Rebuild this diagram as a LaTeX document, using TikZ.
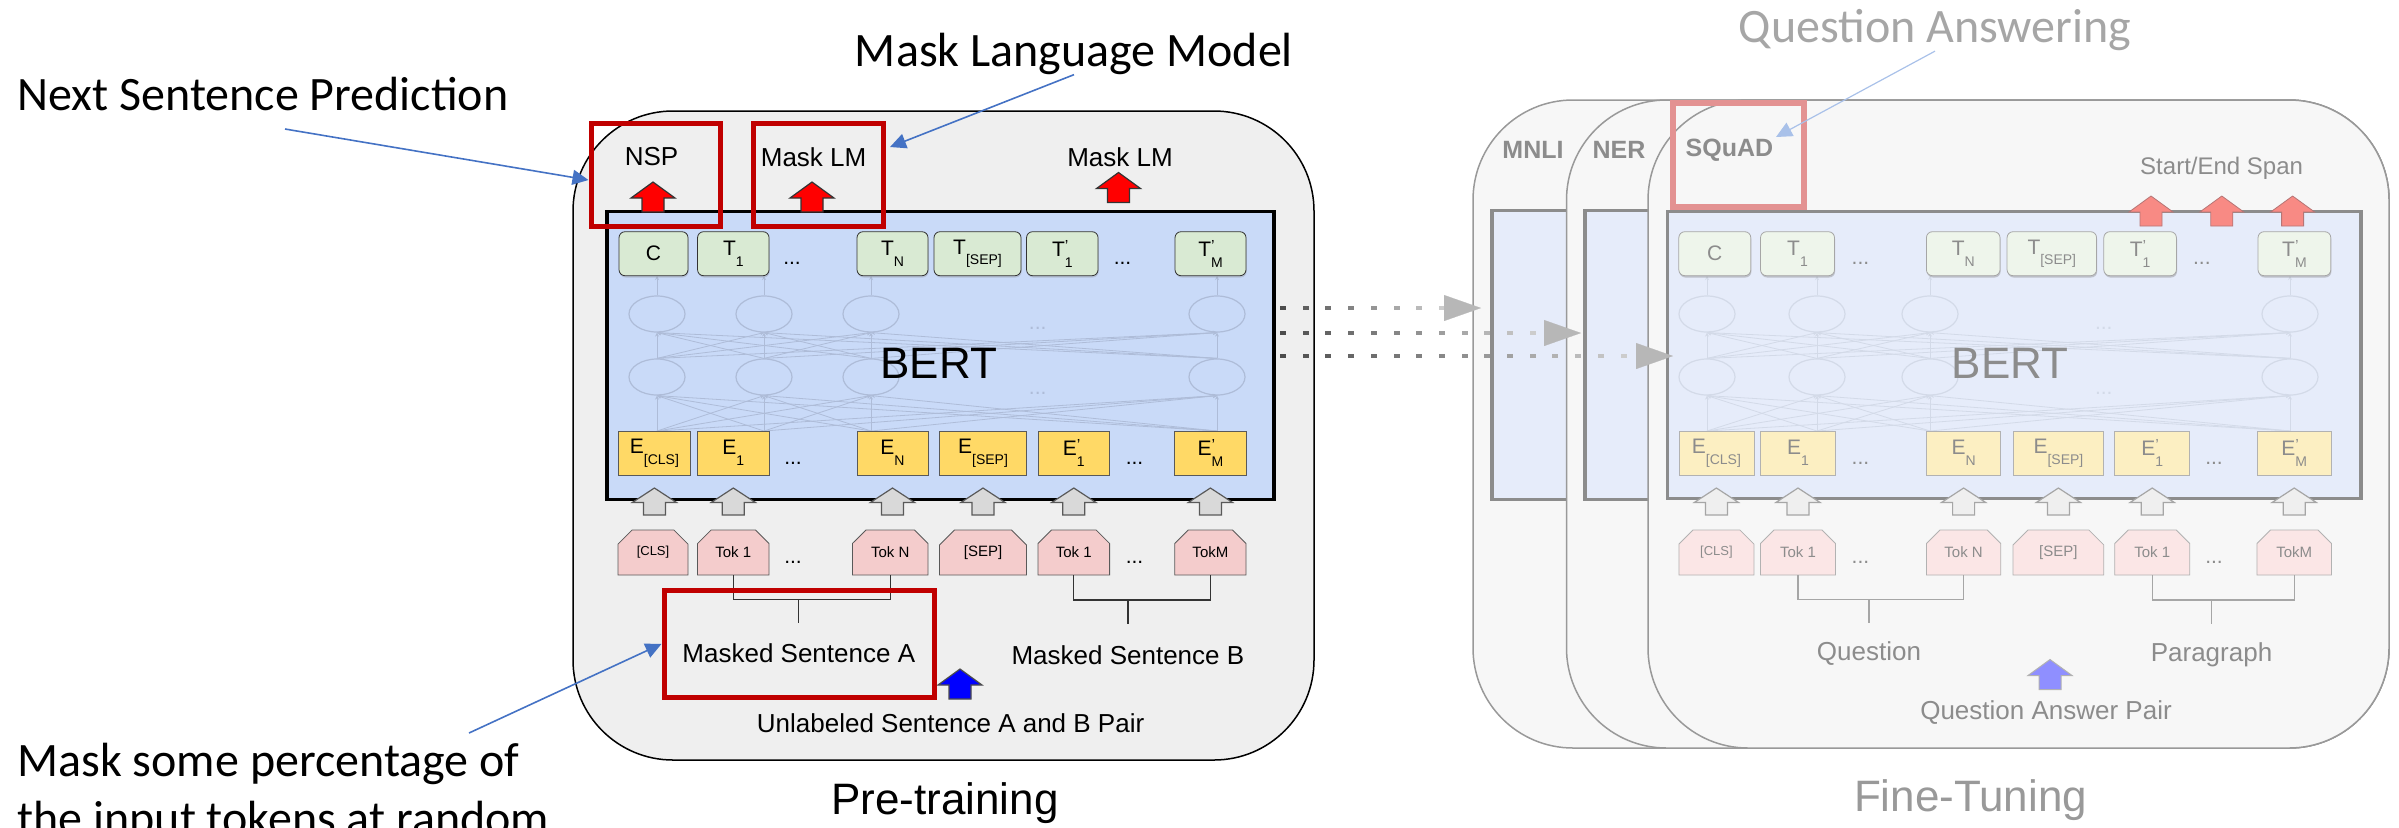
\documentclass[tikz,border=0pt]{standalone}
\usepackage{fontspec}
\setmainfont{Liberation Sans}
\newfontfamily\calibri{Carlito}
\usetikzlibrary{positioning,calc,arrows.meta,shapes.geometric,shapes.misc,shadows}

\definecolor{boxred}{HTML}{C00000}
\definecolor{noteblue}{HTML}{4472C4}
\definecolor{outgrey}{HTML}{EFEFEF}
\definecolor{bertblue}{HTML}{C9DAF8}
\definecolor{tgreen}{HTML}{D9EAD3}
\definecolor{eyellow}{HTML}{FFD966}
\definecolor{tokpink}{HTML}{F4CCCC}
\definecolor{arrgrey}{HTML}{D9D9D9}
\definecolor{netgrey}{HTML}{AEBCD8}
\definecolor{headgrey}{HTML}{B7B7B7}
% faded colours of the fine-tuning side
\definecolor{fpanel}{HTML}{F7F7F7}
\definecolor{fblue}{HTML}{E6ECFA}
\definecolor{fgreen}{HTML}{EEF5EB}
\definecolor{fyellow}{HTML}{FCEFC2}
\definecolor{fpink}{HTML}{FBE6E6}
\definecolor{ftext}{HTML}{8C8C8C}
\definecolor{fnet}{HTML}{D3DAE8}
\definecolor{squadred}{HTML}{E39292}
\definecolor{spanpink}{HTML}{F88A84}
\definecolor{qablue}{HTML}{A9C1E9}
\definecolor{pairblue}{HTML}{8F8FFF}

\newcommand{\sbsp}[3]{#1\rlap{\raisebox{0.25em}{\footnotesize #3}}\raisebox{-0.5em}{\scriptsize #2}}

\tikzset{
  panel/.style={rounded corners=50pt},
  tbox/.style={draw=black!80, fill=tgreen, rounded corners=3pt, minimum height=22pt, inner sep=0pt,
    font=\fontsize{10.5}{12}\selectfont, drop shadow={shadow xshift=0.3pt, shadow yshift=-0.9pt, opacity=0.3}},
  ebox/.style={draw=black!65, fill=eyellow, minimum height=22pt, inner sep=0pt, font=\fontsize{10.5}{12}\selectfont},
  tokbox/.style={chamfered rectangle, chamfered rectangle corners={north west,north east},
    chamfered rectangle xsep=3.5pt, chamfered rectangle ysep=4pt, draw=black!65, fill=tokpink,
    minimum height=22.5pt, inner sep=0pt, font=\fontsize{7.5}{9}\selectfont},
  ftbox/.style={tbox, draw=black!35, fill=fgreen, text=ftext, drop shadow={shadow xshift=0.3pt, shadow yshift=-0.9pt, opacity=0.12}},
  febox/.style={ebox, draw=black!30, fill=fyellow, text=ftext},
  ftokbox/.style={tokbox, draw=black!30, fill=fpink, text=ftext},
  neuron/.style={ellipse, draw=netgrey, line width=0.6pt, minimum width=28pt, minimum height=18pt, inner sep=0pt},
  fneuron/.style={neuron, draw=fnet},
  netline/.style={draw=netgrey, line width=0.4pt, -{Stealth[length=2pt,width=2pt]}},
  fnetline/.style={netline, draw=fnet},
  hibox/.style={draw=boxred, line width=2.5pt, inner sep=0pt},
  lbl/.style={font=\fontsize{13}{15}\selectfont, inner sep=0pt},
  flbl/.style={lbl, text=ftext},
  dots/.style={font=\fontsize{10.5}{12}\selectfont, inner sep=0pt},
  bracket/.style={draw=black!80, line width=0.6pt},
  fbracket/.style={draw=black!35, line width=0.6pt},
  note/.style={font=\calibri\fontsize{24}{29}\selectfont, inner sep=0pt},
  notearrow/.style={draw=noteblue, line width=0.8pt, -{Triangle[length=8pt,width=7.5pt]}},
  dotsq/.style={rectangle, minimum width=3pt, minimum height=2.2pt, inner sep=0pt},
  dothead/.style={draw=headgrey, line width=0.1pt, -{Triangle[length=18.5pt,width=13pt]}},
  blockup/.pic={\path[pic actions] (0,-15) -- (22,1) -- (11,1) -- (11,15) -- (-11,15) -- (-11,1) -- (-22,1) -- cycle;}
}

\begin{document}
\begin{tikzpicture}[x=0.5pt, y=-0.5pt]
\useasboundingbox (0,0) rectangle (2399,827);

% pre-training
\draw[panel, draw=black, line width=0.75pt, fill=outgrey] (573,111) rectangle (1314,760);
\node[draw=black, line width=1.6pt, fill=bertblue, minimum width=333.5pt, minimum height=143.8pt, inner sep=0pt] (bert) at (940.5,355.5) {};

\foreach \a in {657,764,871,1217} {
  \node[neuron] (up\a) at (\a,314) {};
  \node[neuron] (lo\a) at (\a,377) {};
  \coordinate (in\a) at (\a,431);
  \coordinate (out\a) at (\a,276);
  \draw[netline] (up\a.north) -- (out\a);
}
\foreach \a in {657,764,871,1217}
  \foreach \b in {657,764,871,1217} {
    \draw[netline] (lo\a.north) -- (up\b.south);
    \draw[netline] (in\a) -- (lo\b.south);
  }
\node[dots, text=netgrey] (nd1) at (1037.7,328) {...};
\node[dots, text=netgrey] (nd2) at (1037.7,393) {...};
\node[font=\fontsize{22}{26}\selectfont, inner sep=0pt] (bertlabel) at (938.6,363.3) {BERT};

\foreach \n/\x/\w/\t in {c/653.5/69/C, t1/733.3/71.5/{\sbsp{T}{1}{}}, tn/892.5/71/{\sbsp{T}{N}{}},
    tsep/977.5/87/{\sbsp{T}{[SEP]}{}}, t1b/1062.3/71.5/{\sbsp{T}{1}{\textquoteright}}, tm/1210.5/71/{\sbsp{T}{M}{\textquoteright}}}
  \node[tbox, minimum width=\w*0.5pt] (\n) at (\x,253.7) {\t};
\foreach \n/\x/\w/\t in {ecls/654.4/72.8/{\sbsp{E}{[CLS]}{}}, e1/733.3/71.5/{\sbsp{E}{1}{}}, en/892.5/71/{\sbsp{E}{N}{}},
    esep/983/87/{\sbsp{E}{[SEP]}{}}, e1b/1073.8/71.6/{\sbsp{E}{1}{\textquoteright}}, em/1210.4/71.3/{\sbsp{E}{M}{\textquoteright}}}
  \node[ebox, minimum width=\w*0.5pt] (\n) at (\x,453) {\t};
\foreach \n/\x/\w/\t in {kcls/653/70/{\fontsize{6.5}{8}\selectfont[CLS]}, k1/733.3/71.5/Tok 1, kn/890.2/75.6/Tok N,
    ksep/983/87/[SEP], k1b/1073.8/71.6/Tok 1, km/1210.4/71.3/TokM}
  \node[tokbox, minimum width=\w*0.5pt] (\n) at (\x,552.5) {\t};
\node[dots] (td1) at (792,263) {...};
\node[dots] (td2) at (1122.5,263) {...};
\node[dots] (ed1) at (793,463) {...};
\node[dots] (ed2) at (1134.5,463) {...};
\node[dots] (kd1) at (793,562) {...};
\node[dots] (kd2) at (1134.5,562) {...};

\coordinate (garr) at (0,501.5);
\foreach \n in {ecls,e1,en,esep,e1b,em}
  \pic[fill=arrgrey, draw=black!65, line width=0.6pt, yscale=0.9] at (\n.south |- garr) {blockup};

\node[lbl] (msa) at (798.8,653.3) {Masked Sentence A};
\node[lbl] (msb) at (1127.9,655) {Masked Sentence B};
\draw[bracket] (k1.south) |- (kn.south |- 0,599.3) -- (kn.south);
\draw[bracket] (msa.north |- 0,599.3) -- (msa.north |- 0,623.3);
\draw[bracket] (k1b.south) |- (km.south |- 0,600) -- (km.south);
\draw[bracket] (msb.north |- 0,600) -- (msb.north |- 0,624);
\pic[fill=blue, draw=black!70, line width=0.6pt] at (960,684) {blockup};
\node[lbl] (pair) at (950.6,723.3) {Unlabeled Sentence A and B Pair};

\pic[fill=red, draw=black!80, line width=0.6pt] at (653,197) {blockup};
\pic[fill=red, draw=black!80, line width=0.6pt] at (812,197) {blockup};
\pic[fill=red, draw=black!80, line width=0.6pt] at (1118.5,187.5) {blockup};
\node[lbl] (nsp) at (651.5,156.7) {NSP};
\node[lbl] (mlm) at (813.6,156.7) {Mask LM};
\node[lbl] (mlm2) at (1120,156.7) {Mask LM};
\node[hibox, minimum width=64.5pt, minimum height=51.5pt] (nspbox) at (655.5,174.5) {};
\node[hibox, minimum width=65pt, minimum height=51.5pt] (mlmbox) at (818,174.5) {};
\node[hibox, minimum width=135pt, minimum height=53.8pt] (msabox) at (799,643.9) {};
\node[font=\fontsize{22}{26}\selectfont, inner sep=0pt] (pre) at (944.8,803.3) {Pre-training};

% fine-tuning
\draw[panel, draw=black!40, line width=0.75pt, fill=fpanel] (1473,100) rectangle (2389,748);
\draw[draw=black!45, line width=1.6pt, fill=fblue] (1492,210.7) rectangle (2361,499.3);
\node[font=\bfseries\fontsize{12.5}{15}\selectfont, text=ftext, inner sep=0pt] (mnli) at (1533,150) {MNLI};
\draw[panel, draw=black!40, line width=0.75pt, fill=fpanel] (1566.5,100) rectangle (2389,748);
\draw[draw=black!45, line width=1.6pt, fill=fblue] (1585,210.7) rectangle (2361,499.3);
\node[font=\bfseries\fontsize{12.5}{15}\selectfont, text=ftext, inner sep=0pt] (ner) at (1619,150) {NER};
\draw[panel, draw=black!40, line width=0.75pt, fill=fpanel] (1648,100) rectangle (2389,748);
\node[draw=black!45, line width=1.6pt, fill=fblue, minimum width=346.7pt, minimum height=143.8pt, inner sep=0pt] (fbert) at (2014.3,355) {};
\node[font=\bfseries\fontsize{12.5}{15}\selectfont, text=ftext, inner sep=0pt] (squad) at (1729.4,150) {SQuAD};

\foreach \a in {1707,1817,1930,2290} {
  \node[fneuron] (fup\a) at (\a,314) {};
  \node[fneuron] (flo\a) at (\a,377) {};
  \coordinate (fin\a) at (\a,431);
  \coordinate (fout\a) at (\a,276);
  \draw[fnetline] (fup\a.north) -- (fout\a);
}
\foreach \a in {1707,1817,1930,2290}
  \foreach \b in {1707,1817,1930,2290} {
    \draw[fnetline] (flo\a.north) -- (fup\b.south);
    \draw[fnetline] (fin\a) -- (flo\b.south);
  }
\node[dots, text=fnet] (fnd1) at (2103.8,328) {...};
\node[dots, text=fnet] (fnd2) at (2103.8,393) {...};
\node[font=\fontsize{22}{26}\selectfont, text=ftext, inner sep=0pt] (fbertlabel) at (2010,363.3) {BERT};

\foreach \n/\x/\w/\t in {fc/1714.8/72/C, ft1/1797.5/74/{\sbsp{T}{1}{}}, ftn/1963.2/73.6/{\sbsp{T}{N}{}},
    ftsep/2051.8/89.5/{\sbsp{T}{[SEP]}{}}, ft1b/2140.1/72.6/{\sbsp{T}{1}{\textquoteright}}, ftm/2294.4/72.8/{\sbsp{T}{M}{\textquoteright}}}
  \node[ftbox, minimum width=\w*0.5pt] (\n) at (\x,253.7) {\t};
\foreach \n/\x/\w/\t in {fecls/1716.4/75/{\sbsp{E}{[CLS]}{}}, fe1/1798/75/{\sbsp{E}{1}{}}, fen/1963.6/74.4/{\sbsp{E}{N}{}},
    fesep/2058.4/90.8/{\sbsp{E}{[SEP]}{}}, fe1b/2152.2/75/{\sbsp{E}{1}{\textquoteright}}, fem/2294.2/74.5/{\sbsp{E}{M}{\textquoteright}}}
  \node[febox, minimum width=\w*0.5pt] (\n) at (\x,453) {\t};
\foreach \n/\x/\w/\t in {fkcls/1716.4/75/{\fontsize{6.5}{8}\selectfont[CLS]}, fk1/1798/75/Tok 1, fkn/1963.6/74.4/Tok N,
    fksep/2058.4/90.8/[SEP], fk1b/2152.2/75/Tok 1, fkm/2294.2/74.5/TokM}
  \node[ftokbox, minimum width=\w*0.5pt] (\n) at (\x,552.5) {\t};
\node[dots, text=ftext] (ftd1) at (1860.4,263) {...};
\node[dots, text=ftext] (ftd2) at (2201.8,263) {...};
\node[dots, text=ftext] (fed1) at (1860.4,463) {...};
\node[dots, text=ftext] (fed2) at (2214,463) {...};
\node[dots, text=ftext] (fkd1) at (1860.4,562) {...};
\node[dots, text=ftext] (fkd2) at (2214,562) {...};

\foreach \n in {fecls,fe1,fen,fesep,fe1b,fem}
  \pic[fill=outgrey, draw=black!35, line width=0.6pt, yscale=0.9] at (\n.south |- garr) {blockup};
\foreach \x in {2151,2221.8,2292.6}
  \pic[fill=spanpink, draw=squadred!80!black, line width=0.4pt] at (\x,211) {blockup};
\node[font=\fontsize{12}{14}\selectfont, text=ftext, inner sep=0pt] (span) at (2221.6,168) {Start/End Span};

\node[flbl] (quest) at (1869,653.3) {Question};
\node[flbl] (para) at (2211.5,655) {Paragraph};
\draw[fbracket] (fk1.south) |- (fkn.south |- 0,599.3) -- (fkn.south);
\draw[fbracket] (quest.north |- 0,599.3) -- (quest.north |- 0,623.3);
\draw[fbracket] (fk1b.south) |- (fkm.south |- 0,600) -- (fkm.south);
\draw[fbracket] (para.north |- 0,600) -- (para.north |- 0,624);
\pic[fill=pairblue, draw=black!30, line width=0.5pt] at (2050,674.5) {blockup};
\node[flbl] (qapair) at (2046,712.7) {Question Answer Pair};
\node[font=\fontsize{22}{26}\selectfont, text=black!40, inner sep=0pt] (fine) at (1970.6,800) {Fine-Tuning};

\node[draw=squadred, line width=3pt, minimum width=65.3pt, minimum height=51.7pt, inner sep=0pt] (squadbox) at (1738.2,155) {};
\node[note, text=black!35] (qalabel) at (1935,30) {Question Answering};
\coordinate (qatip) at (1776,137);
\draw[notearrow, draw=qablue, line width=0.6pt] (qalabel.south) -- (qatip);

% dotted transfer arrows
\foreach \k/\y/\tip/\m in {1/308/1481/7, 2/333/1581/11, 3/356/1673/15} {
  \coordinate (ds\k) at (1283,\y);
  \coordinate (dt\k) at (\tip,\y);
  \foreach \i in {0,...,\m} {
    \pgfmathsetmacro\shade{70-50*\i/\m}
    \path (ds\k) -- ++(\i*22.7,0) node[dotsq, fill=black!\shade] {};
  }
  \draw[dothead] ($(dt\k)+(-37,0)$) -- (dt\k);
}

% notes
\node[note, anchor=base west] (nsplabel) at (17,110.7) {Next Sentence Prediction};
\coordinate (nspfrom) at (285,129);
\draw[notearrow] (nspfrom) -- (nspbox.west |- 0,180);
\node[note, anchor=base] (mlmlabel) at (1074,66) {Mask Language Model};
\coordinate (mlmtip) at (890,147);
\draw[notearrow] (mlmlabel.south) -- (mlmtip);
\node[note, anchor=base west, align=left] (msklabel) at (17,834.7) {Mask some percentage of\\the input tokens at random};
\coordinate (mskfrom) at (469,733);
\draw[notearrow] (mskfrom) -- (msabox.west);
\end{tikzpicture}
\end{document}
